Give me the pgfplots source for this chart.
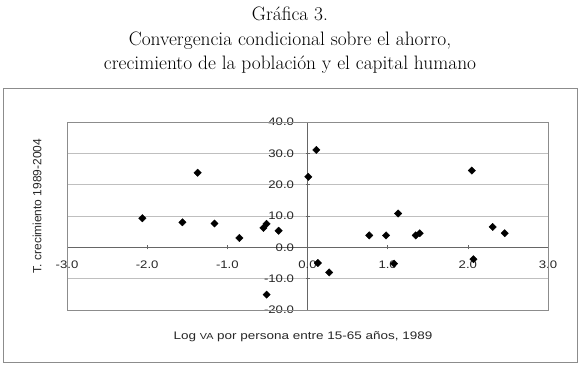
\documentclass[border=0pt]{standalone}
\usepackage{pgfplots}
\pgfplotsset{compat=1.18}
\usepackage{graphicx}
\usepackage{fontspec}
\setsansfont{Liberation Sans}
\begin{document}
\begin{tikzpicture}
\path[use as bounding box] (0bp,0bp) rectangle (580bp,365bp);
\draw[black!45, line width=0.9bp] (3bp,3bp) rectangle (577bp,277bp);
\node[anchor=base, font=\fontsize{19.5}{23}\selectfont] at (290bp,344bp) {Gráfica 3.};
\node[anchor=base, font=\fontsize{19.5}{23}\selectfont] at (290bp,319bp) {Convergencia condicional sobre el ahorro,};
\node[anchor=base, font=\fontsize{19.5}{23}\selectfont] at (290bp,295bp) {crecimiento de la población y el capital humano};
\node[anchor=base, font=\sffamily\fontsize{11}{13}\selectfont, text=black!85] at (303bp,26bp) {\scalebox{1.23}[1]{Log {\fontsize{8.8}{10}\selectfont VA} por persona entre 15-65 años, 1989}};
\node[rotate=90, font=\sffamily\fontsize{12}{14}\selectfont, text=black!85] at (37bp,159bp) {T. crecimiento 1989-2004};
\begin{axis}[
  at={(67bp,55bp)}, anchor=south west,
  scale only axis, width=481bp, height=188bp,
  xmin=-3, xmax=3, ymin=-20, ymax=40,
  axis lines=middle,
  axis line style={-, black!60, line width=0.8bp},
  xtick={-3,-2,-1,0,1,2,3},
  ytick={-20,-10,0,10,20,30,40},
  hide obscured x ticks=false,
  hide obscured y ticks=false,
  ymajorgrids, grid style={black!25, line width=0.6bp},
  tick style={black!60, line width=0.6bp},
  major tick length=4bp,
  tick label style={font=\sffamily\fontsize{11}{13}\selectfont, text=black!85},
  xticklabel={\scalebox{1.2}[1]{\pgfmathprintnumber[assume math mode=true,fixed,fixed zerofill,precision=1]{\tick}}},
  yticklabel={\scalebox{1.2}[1]{\pgfmathprintnumber[assume math mode=true,fixed,fixed zerofill,precision=1]{\tick}}},
  xticklabel style={yshift=-8bp},
  yticklabel style={xshift=-8bp},
  clip=false,
]
\draw[black!45, line width=0.9bp] (rel axis cs:0,0) rectangle (rel axis cs:1,1);
\addplot[only marks, mark=square*, mark size=2.6bp, mark options={rotate=45, fill=black, draw=black}] coordinates {
(-2.06,9.3) (-1.56,8.0) (-1.37,23.8) (-1.16,7.6) (-0.85,3.0)
(-0.55,6.2) (-0.51,7.5) (-0.36,5.3) (-0.51,-15.1)
(0.01,22.5) (0.11,31.1) (0.13,-5.0) (0.27,-8.0)
(0.77,3.8) (0.98,3.8) (1.08,-5.2) (1.13,10.8) (1.35,3.8) (1.40,4.5)
(2.05,24.5) (2.07,-3.8) (2.31,6.5) (2.46,4.5)
};
\end{axis}
\end{tikzpicture}
\end{document}
